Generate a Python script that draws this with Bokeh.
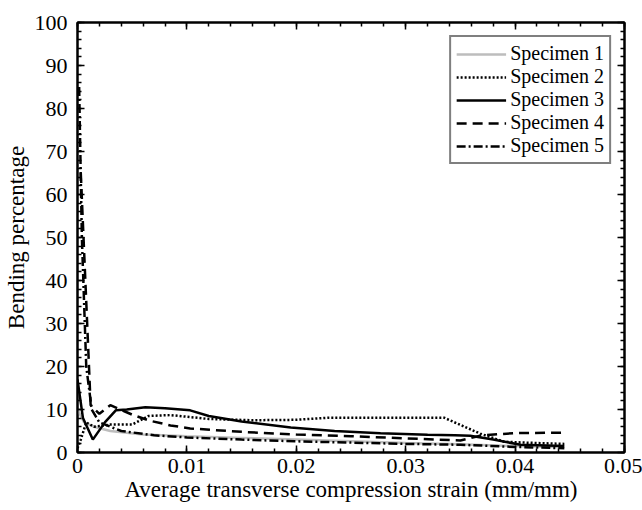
from bokeh.plotting import figure
from bokeh.models import (LinearAxis, SingleIntervalTicker, CustomJSTickFormatter,
                          Range1d, Legend, LegendItem)
from bokeh.embed import file_html
from bokeh.resources import INLINE

# Bending percentage versus average transverse compression strain
s1_x = [0.0, 0.0006, 0.0015, 0.003, 0.006, 0.01, 0.015, 0.02, 0.025, 0.03, 0.035, 0.04, 0.0445]
s1_y = [10.0, 7.0, 6.0, 5.0, 4.2, 3.8, 3.4, 3.0, 2.6, 2.2, 1.9, 1.5, 1.2]

s2_x = [0.0, 0.0003, 0.0008, 0.0015, 0.003, 0.005, 0.0065, 0.0085, 0.012, 0.016, 0.02,
        0.023, 0.0335, 0.0368, 0.039, 0.042, 0.0445]
s2_y = [1.0, 3.0, 7.0, 6.0, 6.5, 6.5, 8.5, 8.7, 7.8, 7.5, 7.6, 8.1, 8.1, 4.4, 2.5, 2.2, 2.0]

s3_x = [0.0, 0.0005, 0.0014, 0.0025, 0.0035, 0.0045, 0.0062, 0.008, 0.0103, 0.012, 0.015,
        0.0195, 0.0235, 0.0277, 0.032, 0.0345, 0.0359, 0.038, 0.0405, 0.0445]
s3_y = [17.0, 8.0, 3.0, 7.0, 9.8, 10.0, 10.5, 10.3, 9.8, 8.5, 7.2, 5.8, 5.0, 4.5, 4.1,
        4.0, 3.9, 3.0, 1.8, 1.5]

s4_x = [0.0003, 0.0012, 0.002, 0.003, 0.005, 0.0066, 0.0085, 0.0103, 0.015, 0.02, 0.025,
        0.03, 0.035, 0.037, 0.04, 0.0442]
s4_y = [65.0, 11.0, 9.0, 11.0, 8.8, 7.4, 6.3, 5.6, 4.8, 4.2, 3.8, 3.3, 2.8, 4.0, 4.5, 4.6]

s5_x = [0.00015, 0.0004, 0.0008, 0.0013, 0.002, 0.004, 0.007, 0.01, 0.015, 0.02, 0.025, 0.03,
        0.035, 0.04, 0.0445]
s5_y = [85.0, 50.0, 20.0, 10.0, 7.0, 5.0, 4.0, 3.5, 3.0, 2.6, 2.3, 2.0, 1.8, 1.3, 1.0]

labels = ["Specimen 1", "Specimen 2", "Specimen 3", "Specimen 4", "Specimen 5"]

FONT = "'Liberation Serif', 'Times New Roman', serif"

p = figure(width=642, height=510, output_backend="svg", toolbar_location=None,
           x_range=Range1d(0, 0.05), y_range=Range1d(0, 100),
           min_border_left=77, min_border_right=18, min_border_top=22,
           min_border_bottom=58, x_axis_type=None, y_axis_type=None)
p.background_fill_color = "white"
p.border_fill_color = "white"
p.outline_line_color = "black"
p.outline_line_width = 2
p.xgrid.visible = False
p.ygrid.visible = False

xfmt = CustomJSTickFormatter(code="return tick.toFixed(2).replace(/\\.?0+$/, '');")


def style_axis(ax, show_labels):
    ax.axis_line_color = "black"
    ax.axis_line_width = 2
    ax.major_tick_in = 7
    ax.major_tick_out = 0
    ax.minor_tick_in = 4
    ax.minor_tick_out = 0
    ax.major_tick_line_width = 1.5
    ax.minor_tick_line_width = 1.5
    ax.major_label_text_font = FONT
    ax.major_label_text_color = "black"
    ax.axis_label_text_font = FONT
    ax.axis_label_text_font_style = "normal"
    ax.axis_label_text_color = "black"
    if show_labels:
        ax.major_label_text_font_size = "22px"
        ax.axis_label_text_font_size = "23px"
    else:
        ax.major_label_text_font_size = "0px"
        ax.major_label_standoff = 0


xb = LinearAxis(ticker=SingleIntervalTicker(interval=0.01, num_minor_ticks=5),
                formatter=xfmt, axis_label="Average transverse compression strain (mm/mm)")
style_axis(xb, True)
xb.major_label_standoff = 6
xb.axis_label_standoff = 1
p.add_layout(xb, "below")

xt = LinearAxis(ticker=SingleIntervalTicker(interval=0.01, num_minor_ticks=5))
style_axis(xt, False)
p.add_layout(xt, "above")

yl = LinearAxis(ticker=SingleIntervalTicker(interval=10, num_minor_ticks=5),
                axis_label="Bending percentage")
style_axis(yl, True)
yl.major_label_standoff = 10
yl.axis_label_standoff = 3
p.add_layout(yl, "left")

yr = LinearAxis(ticker=SingleIntervalTicker(interval=10, num_minor_ticks=5))
style_axis(yr, False)
p.add_layout(yr, "right")

lw = 2.5
r1 = p.line(s1_x, s1_y, line_color="#bdbdbd", line_width=lw)
r2 = p.line(s2_x, s2_y, line_color="black", line_width=lw, line_dash="2 2")
r3 = p.line(s3_x, s3_y, line_color="black", line_width=lw)
r4 = p.line(s4_x, s4_y, line_color="black", line_width=lw, line_dash="10 6")
r5 = p.line(s5_x, s5_y, line_color="black", line_width=lw, line_dash="9 3 2 3")

legend = Legend(items=[LegendItem(label=l, renderers=[r])
                       for l, r in zip(labels, [r1, r2, r3, r4, r5])],
                location="top_right")
legend.margin = 13
legend.padding = 5
legend.spacing = 0
legend.glyph_width = 50
legend.glyph_height = 18
legend.label_height = 18
legend.label_standoff = 4
legend.label_text_font = FONT
legend.label_text_font_size = "20px"
legend.label_text_line_height = 1.0
legend.label_text_color = "black"
legend.border_line_color = "black"
legend.border_line_width = 2
legend.background_fill_alpha = 1
p.add_layout(legend, "center")

open("out.html", "w").write(file_html(p, INLINE))
